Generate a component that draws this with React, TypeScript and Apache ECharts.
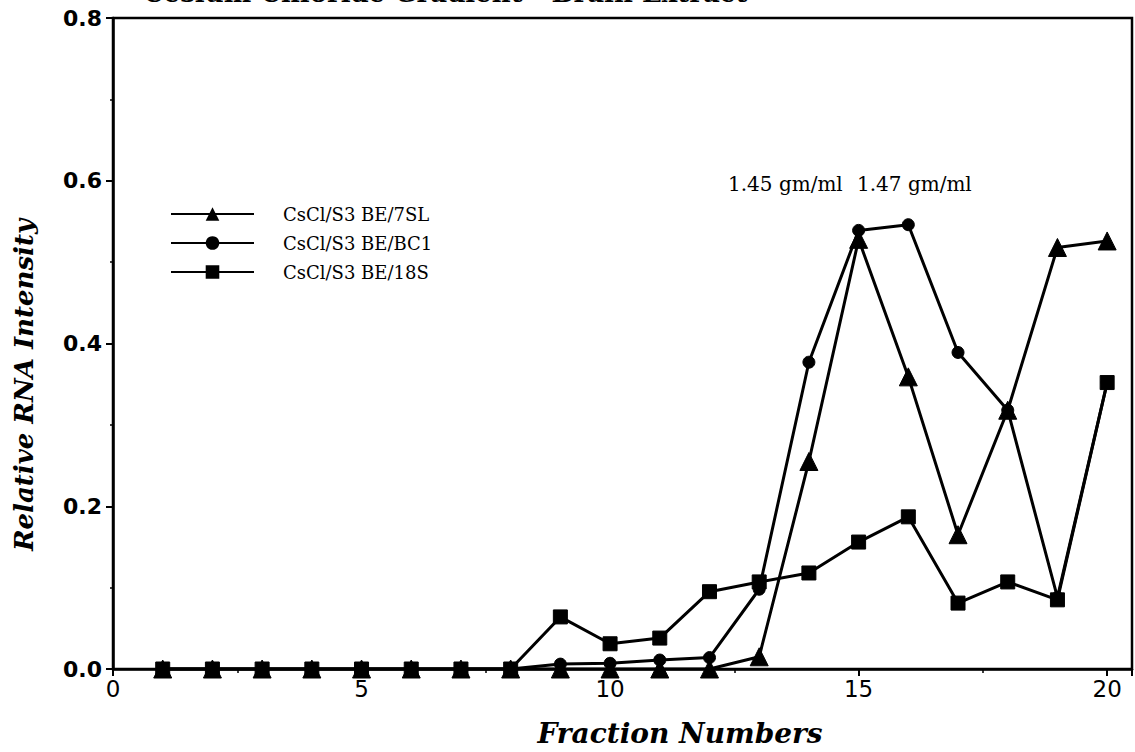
import React, { useEffect, useRef } from "react";
import * as echarts from "echarts";

const fractions = [1, 2, 3, 4, 5, 6, 7, 8, 9, 10, 11, 12, 13, 14, 15, 16, 17, 18, 19, 20];
const sl7 = [0, 0, 0, 0, 0, 0, 0, 0, 0, 0, 0, 0, 0.015, 0.255, 0.528, 0.359, 0.165, 0.318, 0.518, 0.526];
const bc1 = [0, 0, 0, 0, 0, 0, 0, 0, 0.006, 0.007, 0.011, 0.014, 0.098, 0.377, 0.539, 0.546, 0.389, 0.318, 0.088, 0.352];
const s18 = [0, 0, 0, 0, 0, 0, 0, 0, 0.064, 0.031, 0.038, 0.095, 0.107, 0.118, 0.156, 0.187, 0.081, 0.107, 0.085, 0.352];
const seriesNames = ["CsCl/S3 BE/7SL", "CsCl/S3 BE/BC1", "CsCl/S3 BE/18S"];
const densityLabels = ["1.45 gm/ml", "1.47 gm/ml"];
const titleText = "Cesium Chloride Gradient - Brain Extract";
const xTitle = "Fraction Numbers";
const yTitle = "Relative RNA Intensity";

const pair = (ys: number[]) => fractions.map((f, i) => [f, ys[i]]);

export default function App() {
  const ref = useRef<HTMLDivElement>(null);
  useEffect(() => {
    if (!ref.current) return;
    const chart = echarts.init(ref.current, null, { renderer: "svg" });
    const serif = "'DejaVu Serif', 'Liberation Serif', serif";
    const lineStyle = { color: "#000", width: 3 };
    const mk = (name: string, data: number[], symbol: string, size: number) => ({
      name,
      type: "line",
      data: pair(data),
      symbol,
      symbolSize: size,
      showAllSymbol: true,
      lineStyle,
      itemStyle: { color: "#000", borderColor: "#000" },
      z: 3,
    });
    chart.setOption({
      animation: false,
      backgroundColor: "#fff",
      grid: {
        left: 113,
        top: 18,
        right: 2,
        bottom: 83,
        show: true,
        borderColor: "#000",
        borderWidth: 2.5,
        backgroundColor: "transparent",
      },
      legend: {
        orient: "vertical",
        left: 165,
        top: 200,
        itemWidth: 83,
        itemHeight: 17,
        itemGap: 11,
        textStyle: { fontFamily: serif, fontSize: 18, color: "#000", padding: [0, 0, 0, 24] },
        data: seriesNames,
      },
      xAxis: {
        type: "value",
        min: 0,
        max: 20.5,
        interval: 5,
        axisLine: { show: true, lineStyle: { color: "#000", width: 2.5 } },
        axisTick: { show: true, inside: false, length: 7, lineStyle: { color: "#000", width: 2 } },
        minorTick: { show: true, splitNumber: 2, length: 4, lineStyle: { color: "#000", width: 1.5 } },
        splitLine: { show: false },
        axisLabel: {
          color: "#000",
          fontFamily: "'DejaVu Sans', sans-serif",
          fontSize: 23,
          margin: 8,
          formatter: (v: number) => (v > 20 ? "" : String(v)),
        },
      },
      yAxis: {
        type: "value",
        min: 0,
        max: 0.8,
        interval: 0.2,
        axisLine: { show: true, lineStyle: { color: "#000", width: 2.5 } },
        axisTick: { show: true, inside: false, length: 7, lineStyle: { color: "#000", width: 2 } },
        minorTick: { show: true, splitNumber: 2, length: 3, lineStyle: { color: "#000", width: 1.5 } },
        splitLine: { show: false },
        axisLabel: {
          color: "#000",
          fontFamily: "'DejaVu Sans', sans-serif",
          fontSize: 22,
          fontWeight: "bold",
          margin: 11,
          formatter: (v: number) => v.toFixed(1),
        },
      },
      graphic: [
        {
          type: "text",
          left: 143,
          top: -20,
          style: { text: titleText, font: "bold 26px 'DejaVu Serif', serif", fill: "#000" },
        },
        {
          type: "text",
          x: 24,
          y: 385,
          rotation: Math.PI / 2,
          style: {
            text: yTitle,
            font: "italic bold 26px 'DejaVu Serif', serif",
            fill: "#000",
            align: "center",
            verticalAlign: "middle",
          },
        },
        {
          type: "text",
          x: 680,
          y: 733,
          style: {
            text: xTitle,
            font: "italic bold 28px 'DejaVu Serif', serif",
            fill: "#000",
            align: "center",
            verticalAlign: "middle",
          },
        },
        {
          type: "text",
          x: 728,
          y: 184,
          style: { text: densityLabels[0], font: "20px 'DejaVu Serif', serif", fill: "#000", verticalAlign: "middle" },
        },
        {
          type: "text",
          x: 857,
          y: 184,
          style: { text: densityLabels[1], font: "20px 'DejaVu Serif', serif", fill: "#000", verticalAlign: "middle" },
        },
      ],
      series: [
        mk(seriesNames[0], sl7, "triangle", 18),
        mk(seriesNames[1], bc1, "circle", 12),
        mk(seriesNames[2], s18, "rect", 14),
      ],
    });
    return () => chart.dispose();
  }, []);
  return (
    <div
      ref={ref}
      style={{ position: "fixed", left: 0, top: 0, width: 1135, height: 752, background: "#fff" }}
    />
  );
}
